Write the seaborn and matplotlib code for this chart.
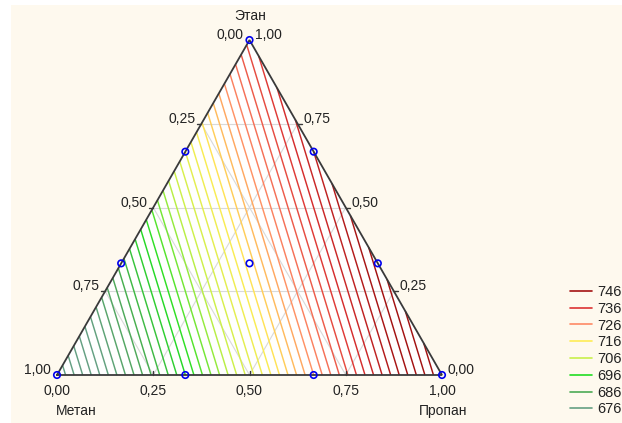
import numpy as np
import matplotlib
matplotlib.use("Agg")
import matplotlib.pyplot as plt
import matplotlib.tri as mtri
from matplotlib.colors import LinearSegmentedColormap, Normalize
from matplotlib.lines import Line2D
from matplotlib.patches import Rectangle
import pandas as pd
import seaborn as sns

# ---- data: simplex-lattice design points (fractions) and response ----
metan  = [1.0, 0.0, 0.0, 2/3, 1/3, 2/3, 1/3, 0.0, 0.0, 1/3]
etan   = [0.0, 1.0, 0.0, 1/3, 2/3, 0.0, 0.0, 2/3, 1/3, 1/3]
propan = [0.0, 0.0, 1.0, 0.0, 0.0, 1/3, 2/3, 1/3, 2/3, 1/3]
response = [670, 739, 760, 693, 716, 700, 730, 746, 753, 723]

legend_levels = [746, 736, 726, 716, 706, 696, 686, 676]
legend_colors = ["#a31212", "#dc3232", "#ff8a66", "#ffec55",
                 "#c8f04a", "#22dd22", "#4caa55", "#65a083"]
contour_levels = list(range(672, 760, 2))
tick_labels = ["0,00", "0,25", "0,50", "0,75", "1,00"]
axis_names = ["Метан", "Этан", "Пропан"]

sns.set_style("white")
plt.rcParams["font.family"] = ["Liberation Sans", "DejaVu Sans"]

S3 = np.sqrt(3) / 2
YS = 386.8

def px(xp, yp):
    return ((xp - 57) / 385.0, (375 - yp) / YS)

def cart(m, e, p):
    m, e, p = np.asarray(m), np.asarray(e), np.asarray(p)
    return p + e / 2.0, e * S3

fig = plt.figure(figsize=(6.22, 4.23), dpi=100)
fig.patch.set_facecolor("white")
fig.patches.append(Rectangle((11 / 622, 0), 1, (423 - 5) / 423, transform=fig.transFigure,
                             facecolor="#fef9ee", edgecolor="none", zorder=-10))
ax = fig.add_axes([0, 0, 1, 1])
ax.set_facecolor("none")
ax.set_xlim(-57 / 385, 565 / 385)
ax.set_ylim(-48 / YS, 375 / YS)
ax.axis("off")

# triangle fill
tx = [0, 1, 0.5, 0]
ty = [0, 0, S3, 0]
ax.fill(tx, ty, color="white", zorder=0)

# grid lines
for g in [0.25, 0.5, 0.75]:
    x0, y0 = cart(1 - g, g, 0); x1, y1 = cart(0, g, 1 - g)
    ax.plot([x0, x1], [y0, y1], color="#d9d9d9", lw=0.8, zorder=1)
    x0, y0 = cart(1 - g, 0, g); x1, y1 = cart(0, 1 - g, g)
    ax.plot([x0, x1], [y0, y1], color="#d9d9d9", lw=0.8, zorder=1)
    x0, y0 = cart(g, 1 - g, 0); x1, y1 = cart(g, 0, 1 - g)
    ax.plot([x0, x1], [y0, y1], color="#d9d9d9", lw=0.8, zorder=1)

# fit Scheffé quadratic model to design responses
M = np.array(metan); E = np.array(etan); P = np.array(propan)
X = np.column_stack([M, E, P, M * E, M * P, E * P])
coef, *_ = np.linalg.lstsq(X, np.array(response, dtype=float), rcond=None)

n = 80
pts = []
for i in range(n + 1):
    for j in range(n + 1 - i):
        k = n - i - j
        pts.append((i / n, j / n, k / n))
pts = np.array(pts)
gm, ge, gp = pts[:, 0], pts[:, 1], pts[:, 2]
gz = np.column_stack([gm, ge, gp, gm * ge, gm * gp, ge * gp]) @ coef
gx, gy = cart(gm, ge, gp)
tri = mtri.Triangulation(gx, gy)

cmap = LinearSegmentedColormap.from_list(
    "stat", list(zip(np.linspace(0, 1, 8), legend_colors[::-1])))
norm = Normalize(vmin=legend_levels[-1] + 5, vmax=legend_levels[0] + 5, clip=True)
ax.tricontour(tri, gz, levels=contour_levels, cmap=cmap, norm=norm,
              linewidths=1.05, zorder=2)

# triangle outline
ax.plot(tx, ty, color="#3a3a3a", lw=1.3, zorder=3, solid_joinstyle="miter")

# small tick marks
for g in [0.25, 0.5, 0.75]:
    xl, yl = cart(1 - g, g, 0)
    ax.plot([xl - 4 / 385, xl], [yl, yl], color="#3a3a3a", lw=1.0, zorder=3)
    xr, yr = cart(0, g, 1 - g)
    ax.plot([xr, xr + 4 / 385], [yr, yr], color="#3a3a3a", lw=1.0, zorder=3)
    xb, yb = cart(1 - g, 0, g)
    ax.plot([xb, xb], [yb, yb + 4 / YS], color="#3a3a3a", lw=1.0, zorder=3)

# design points
dx, dy = cart(M, E, P)
df = pd.DataFrame({"x": dx, "y": dy, "z": response})
sns.scatterplot(data=df, x="x", y="y", ax=ax, marker="o", s=22,
                facecolor="none", edgecolor="#0000ee", linewidth=1.2, zorder=5, legend=False)

fs = 10
for i, g in enumerate([0.0, 0.25, 0.5, 0.75, 1.0]):
    xl, yl = cart(1 - g, g, 0)
    ax.text(xl - 6 / 385, yl + 5 / YS, tick_labels[4 - i], ha="right", va="center",
            fontsize=fs, color="#222222")
    xr, yr = cart(0, g, 1 - g)
    ax.text(xr + 6 / 385, yr + 5 / YS, tick_labels[i], ha="left", va="center",
            fontsize=fs, color="#222222")
    xb, yb = cart(1 - g, 0, g)
    ax.text(xb, yb - 16 / YS, tick_labels[i], ha="center", va="center",
            fontsize=fs, color="#222222")

ax.text(*px(250, 16), axis_names[1], ha="center", va="center", fontsize=fs, color="#222222")
ax.text(*px(76, 411), axis_names[0], ha="center", va="center", fontsize=fs, color="#222222")
ax.text(*px(443, 411), axis_names[2], ha="center", va="center", fontsize=fs, color="#222222")

handles = [Line2D([0], [0], color=c, lw=1.2) for c in legend_colors]
fig.legend(handles, [str(v) for v in legend_levels], loc="upper left",
           bbox_to_anchor=(570 / 622, (423 - 285) / 423), frameon=False,
           fontsize=10.5, handlelength=1.5, handletextpad=0.35, labelspacing=0.19,
           borderpad=0, borderaxespad=0, labelcolor="#222222")

fig.savefig("out.png", dpi=100, facecolor="white")
